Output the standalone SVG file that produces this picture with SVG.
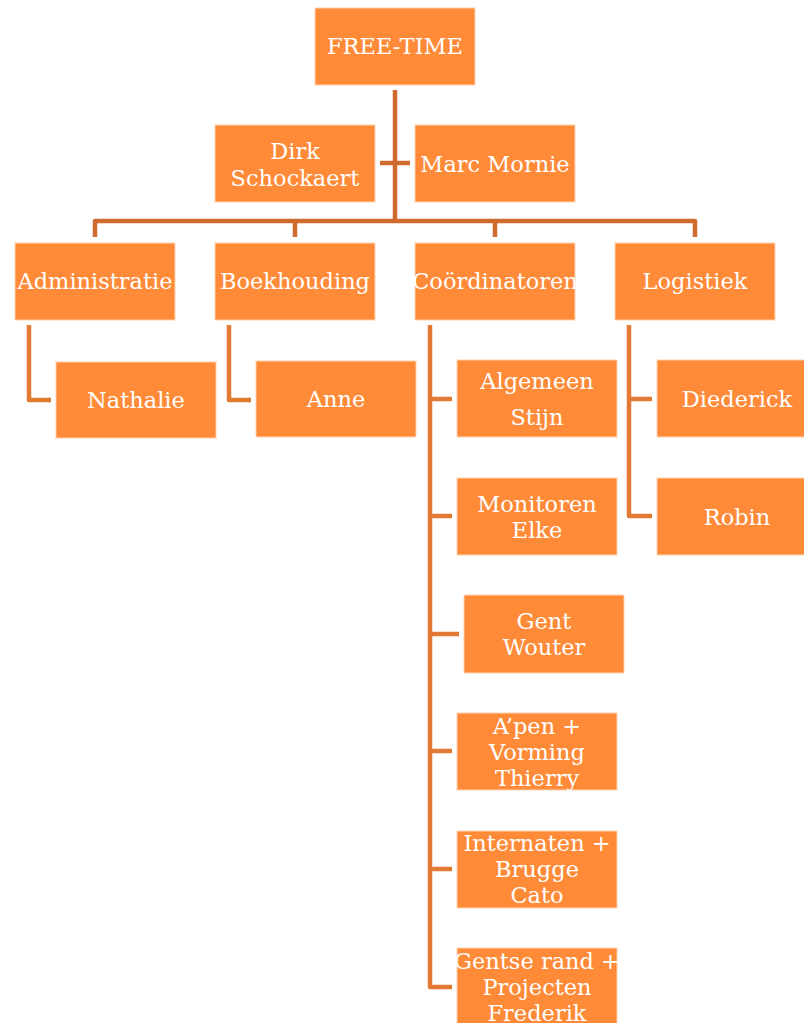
<svg xmlns="http://www.w3.org/2000/svg" width="804" height="1023" viewBox="0 0 804 1023">
<style>
.b{fill:#FF8A38;stroke:#FFD2B0;stroke-width:1}
.t{font-family:"DejaVu Serif","Liberation Serif",serif;font-size:22.5px;fill:#FFFFFF;text-anchor:middle}
.c{fill:none;stroke:#E27A35;stroke-width:4.5;stroke-linejoin:round;stroke-linecap:butt}
.c0{stroke:#D06B2E}
</style>
<rect width="804" height="1023" fill="#FFFFFF"/>
<g id="connectors">
<path class="c c0" d="M395 90V221M95 237V221H695V237M295 221V237M495 221V237M380 163H410"/>
<path class="c" d="M29 325V400H51"/>
<path class="c" d="M229 325V400H251"/>
<path class="c" d="M430 325V987H452M430 399H452M430 516H452M430 634H459M430 751H452M430 869H452"/>
<path class="c" d="M629 325V516H652M629 399H652"/>
</g>
<g id="free-time"><rect class="b" x="315" y="8" width="160" height="77"/><text class="t" x="395" y="54">FREE-TIME</text></g>
<g id="dirk"><rect class="b" x="215" y="125" width="160" height="77"/><text class="t" x="295" y="159">Dirk</text><text class="t" x="295" y="186">Schockaert</text></g>
<g id="marc"><rect class="b" x="415" y="125" width="160" height="77"/><text class="t" x="495" y="172">Marc Mornie</text></g>
<g id="administratie"><rect class="b" x="15" y="243" width="160" height="77"/><text class="t" x="95" y="289">Administratie</text></g>
<g id="boekhouding"><rect class="b" x="215" y="243" width="160" height="77"/><text class="t" x="295" y="289">Boekhouding</text></g>
<g id="coordinatoren"><rect class="b" x="415" y="243" width="160" height="77"/><text class="t" x="495" y="289">Coördinatoren</text></g>
<g id="logistiek"><rect class="b" x="615" y="243" width="160" height="77"/><text class="t" x="695" y="289">Logistiek</text></g>
<g id="nathalie"><rect class="b" x="56" y="362" width="160" height="76"/><text class="t" x="136" y="408">Nathalie</text></g>
<g id="anne"><rect class="b" x="256" y="361" width="160" height="76"/><text class="t" x="336" y="407">Anne</text></g>
<g id="algemeen"><rect class="b" x="457" y="360" width="160" height="77"/><text class="t" x="537" y="389">Algemeen</text><text class="t" x="537" y="425">Stijn</text></g>
<g id="diederick"><rect class="b" x="657" y="360" width="160" height="77"/><text class="t" x="737" y="407">Diederick</text></g>
<g id="monitoren"><rect class="b" x="457" y="478" width="160" height="77"/><text class="t" x="537" y="512">Monitoren</text><text class="t" x="537" y="538">Elke</text></g>
<g id="robin"><rect class="b" x="657" y="478" width="160" height="77"/><text class="t" x="737" y="525">Robin</text></g>
<g id="gent"><rect class="b" x="464" y="595" width="160" height="78"/><text class="t" x="544" y="629">Gent</text><text class="t" x="544" y="655">Wouter</text></g>
<g id="apen"><rect class="b" x="457" y="713" width="160" height="77"/><text class="t" x="537" y="734">A’pen +</text><text class="t" x="537" y="760">Vorming</text><text class="t" x="537" y="786">Thierry</text></g>
<g id="internaten"><rect class="b" x="457" y="831" width="160" height="77"/><text class="t" x="537" y="851">Internaten +</text><text class="t" x="537" y="877">Brugge</text><text class="t" x="537" y="903">Cato</text></g>
<g id="gentse-rand"><rect class="b" x="457" y="948" width="160" height="80"/><text class="t" x="537" y="969">Gentse rand +</text><text class="t" x="537" y="995">Projecten</text><text class="t" x="537" y="1021">Frederik</text></g>
</svg>
